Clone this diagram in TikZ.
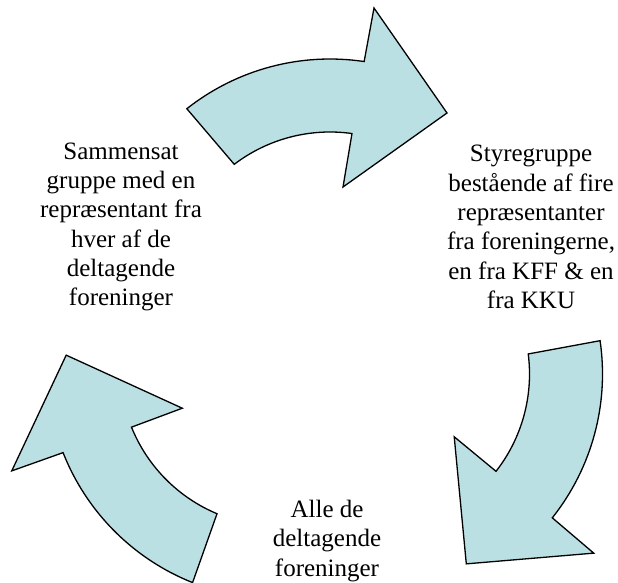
\documentclass[tikz,border=0pt]{standalone}
\usepackage{fontspec}
\setmainfont{Liberation Serif}
\definecolor{arrowfill}{RGB}{187,224,227}
\tikzset{
	cyclearrow/.style={draw=black, line width=1.3pt, line join=miter, fill=arrowfill},
	grouplabel/.style={align=center, inner sep=0pt, font=\fontsize{25}{29.3}\selectfont}
}
\def\roundarrow(#1)(#2){\begin{scope}[shift={(#1)}, rotate=#2, shift={(3.5,54)}]
		\draw[cyclearrow] (128.3:231pt) arc[start angle=128.3, end angle=81.5, radius=231pt] -- (44,282) -- (117,177) -- (13,103) -- (82:158pt) arc[start angle=82, end angle=127.3, radius=158pt] -- cycle;
	\end{scope}}

\begin{document}
\begin{tikzpicture}[x=1pt, y=1pt]
			%%%%% START %%%%%
			
			\useasboundingbox (0,0) rectangle (618,582);
			
			\roundarrow(326.5,238)(0)
			\roundarrow(326.5,238)(-120)
			\roundarrow(326.5,238)(120)
			
			\node[grouplabel] (sammensat) at (121,355) {Sammensat\\gruppe med en\\repræsentant fra\\hver af de\\deltagende\\foreninger};
			\node[grouplabel] (styregruppe) at (531,355) {Styregruppe\\bestående af fire\\repræsentanter\\fra foreningerne,\\en fra KFF \& en\\fra KKU};
			\node[grouplabel] (deltagere) at (327,41) {Alle de\\deltagende\\foreninger};
			
			%%%%% END %%%%%
\end{tikzpicture}
\end{document}
